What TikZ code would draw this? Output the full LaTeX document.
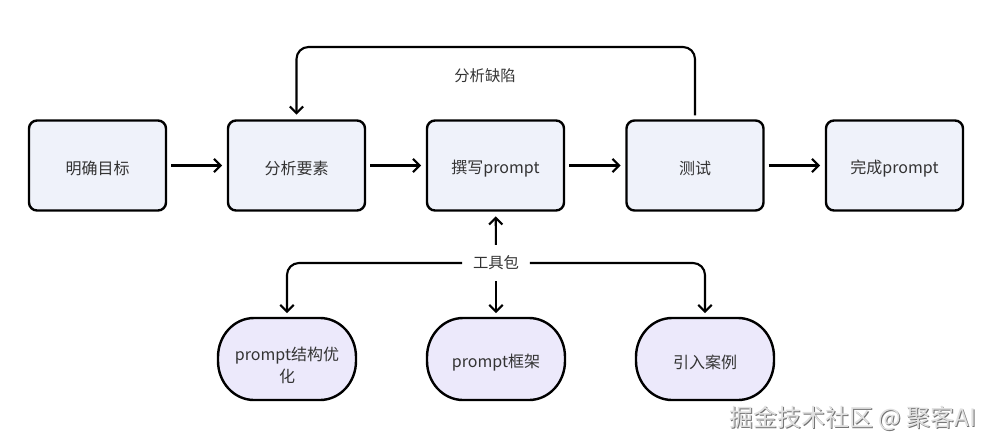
\documentclass[tikz,border=0pt]{standalone}
\usepackage{fontspec}
\setmainfont{Noto Sans CJK SC}
\usetikzlibrary{arrows.meta}
\definecolor{boxfill}{HTML}{EFF2FA}
\definecolor{blobfill}{HTML}{ECE9FB}
\definecolor{txt}{HTML}{333333}
\newcommand\dn[1]{\raisebox{-2.5pt}[\height][\depth]{#1}}
\newcommand\myblob[2]{%
 \filldraw[blobline] ({#1-69+36},{#2-41}) -- ({#1+69-36},{#2-41})
   arc[start angle=90,end angle=0,x radius=27pt,y radius=29.25pt]
   -- ({#1+69},{#2+41-39})
   arc[start angle=0,end angle=-90,x radius=27pt,y radius=29.25pt]
   -- ({#1-69+36},{#2+41})
   arc[start angle=-90,end angle=-180,x radius=27pt,y radius=29.25pt]
   -- ({#1-69},{#2-41+39})
   arc[start angle=180,end angle=90,x radius=27pt,y radius=29.25pt]
   -- cycle;}
\begin{document}
\begin{tikzpicture}[x=0.75pt,y=-0.75pt,
  stepbox/.style={draw=black, line width=1.8pt, fill=boxfill, rounded corners=6pt,
    minimum width=102.75pt, minimum height=67.5pt, text=txt,
    font=\fontsize{12}{14}\selectfont, inner sep=0pt},
  blobline/.style={draw=black, line width=1.8pt, fill=blobfill},
  blobnode/.style={minimum width=103.5pt, minimum height=61.5pt, text=txt,
    font=\fontsize{12}{17}\selectfont, inner sep=0pt, align=center},
  lbl/.style={text=txt, font=\fontsize{11.5}{14}\selectfont},
  conn/.style={draw=black, line width=1.6pt, -{Straight Barb[length=5pt,width=10pt,line width=1.6pt]},
    shorten >=3.5pt, shorten <=3pt}
]
\useasboundingbox (0,0) rectangle (999,447);
\node[stepbox] (a1) at (97.5,165.5) {\dn{明确目标}};
\node[stepbox] (a2) at (296.5,165.5) {\dn{分析要素}};
\node[stepbox] (a3) at (495.5,165.5) {\dn{撰写prompt}};
\node[stepbox] (a4) at (695,165.5) {\dn{测试}};
\node[stepbox] (a5) at (894.5,165.5) {\dn{完成prompt}};

\draw[conn] (a1) -- (a2);
\draw[conn] (a2) -- (a3);
\draw[conn] (a3) -- (a4);
\draw[conn] (a4) -- (a5);

\coordinate (fb) at (496,47);
\draw[conn, rounded corners=9pt] (a4.north) -- (a4.north |- fb) -- (a2.north |- fb) -- (a2.north);
\node[lbl] (fbl) at (485,76) {分析缺陷};

\myblob{287}{359}
\myblob{496}{359}
\myblob{705}{359}
\node[blobnode] (e1) at (287,359) {\raisebox{-6pt}[\height][\depth]{\begin{tabular}{@{}c@{}}prompt结构优\\[-1pt]化\end{tabular}}};
\node[blobnode] (e2) at (496,359) {\dn{prompt框架}};
\node[blobnode] (e3) at (705,359) {\dn{引入案例}};

\node[lbl, fill=white, inner sep=5pt] (tool) at (496,263) {工具包};
\draw[conn] (tool) -- (a3);
\draw[conn] (tool) -- (e2);
\draw[conn, rounded corners=9pt] (tool.west) -| (e1);
\draw[conn, rounded corners=9pt] (tool.east) -| (e3);

\node[text=black!55, font=\fontsize{18}{20}\selectfont, anchor=west] (wm0) at (725.8,419.3) {掘金技术社区 @ 聚客AI};
\node[text=black!12, font=\fontsize{18}{20}\selectfont, anchor=west] (wm) at (724.5,418) {掘金技术社区 @ 聚客AI};
\end{tikzpicture}
\end{document}
